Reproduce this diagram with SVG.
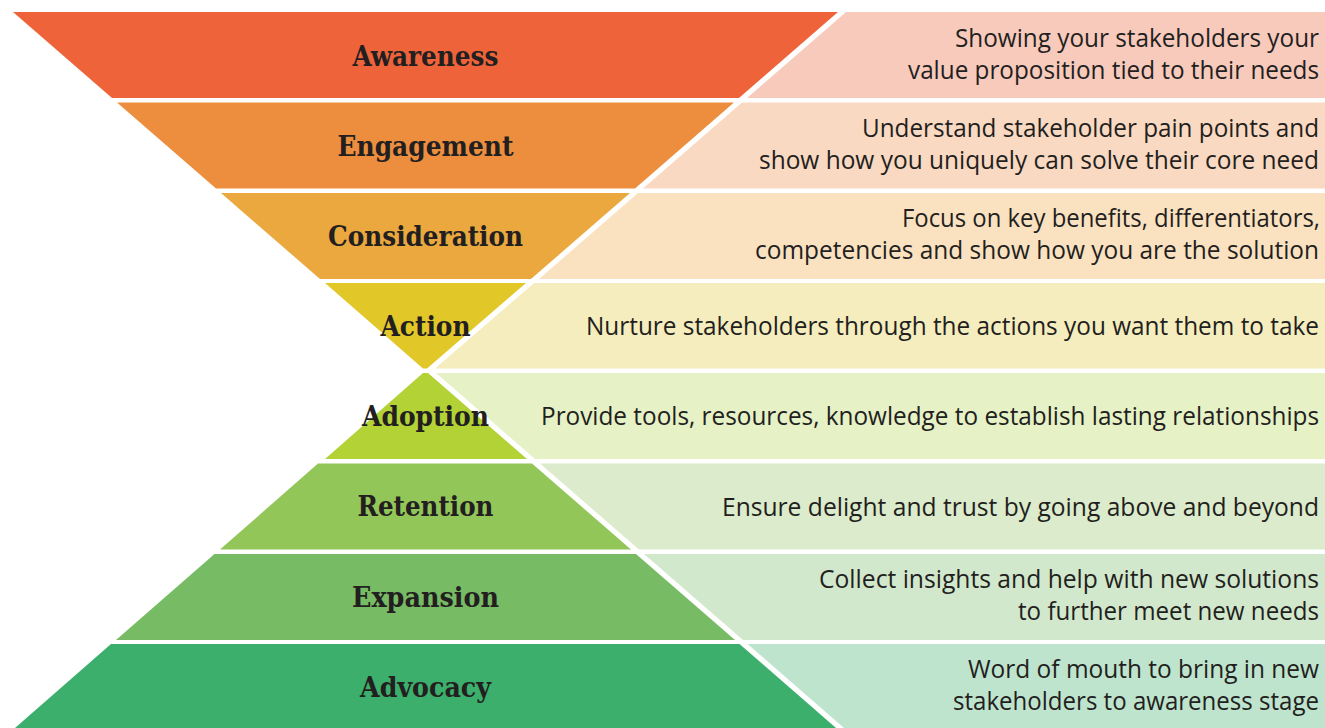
<svg xmlns="http://www.w3.org/2000/svg" width="1325" height="728" viewBox="0 0 1325 728">
<style>
.lbl{font-family:"DejaVu Serif","Liberation Serif",serif;font-weight:bold;font-size:27px;fill:#231F20;text-anchor:middle}
.dsc{font-family:"Open Sans","Noto Sans","Liberation Sans",sans-serif;font-size:25px;fill:#231F20;text-anchor:end}
</style>
<rect width="1325" height="728" fill="#ffffff"/>
<g id="awareness">
<polygon points="846,12 1325,12 1325,98 747,98" fill="#F8CABC"/>
<polygon points="13,12 838,12 739,98 112,98" fill="#EF633A"/>
<text class="lbl" x="425.5" y="66" textLength="146" lengthAdjust="spacingAndGlyphs">Awareness</text>
<text class="dsc" x="1319" y="47" textLength="364" lengthAdjust="spacingAndGlyphs">Showing your stakeholders your</text>
<text class="dsc" x="1319" y="79" textLength="411" lengthAdjust="spacingAndGlyphs">value proposition tied to their needs</text>
</g>
<g id="engagement">
<polygon points="742,102.5 1325,102.5 1325,188.5 643,188.5" fill="#F9D9C1"/>
<polygon points="117,102.5 734,102.5 635,188.5 216,188.5" fill="#EC8E3E"/>
<text class="lbl" x="425.5" y="156" textLength="176" lengthAdjust="spacingAndGlyphs">Engagement</text>
<text class="dsc" x="1319" y="137" textLength="457" lengthAdjust="spacingAndGlyphs">Understand stakeholder pain points and</text>
<text class="dsc" x="1319" y="169" textLength="560" lengthAdjust="spacingAndGlyphs">show how you uniquely can solve their core need</text>
</g>
<g id="consideration">
<polygon points="638,193 1325,193 1325,279 539,279" fill="#FAE2C1"/>
<polygon points="221,193 630,193 531,279 320,279" fill="#EAA83E"/>
<text class="lbl" x="425.5" y="246" textLength="195" lengthAdjust="spacingAndGlyphs">Consideration</text>
<text class="dsc" x="1320" y="227" textLength="418" lengthAdjust="spacingAndGlyphs">Focus on key benefits, differentiators,</text>
<text class="dsc" x="1319" y="259" textLength="564" lengthAdjust="spacingAndGlyphs">competencies and show how you are the solution</text>
</g>
<g id="action">
<polygon points="534,283 1325,283 1325,368.5 435,368.5" fill="#F5EDBE"/>
<polygon points="325,283 526,283 427,368.5 423,368.5" fill="#E2C729"/>
<text class="lbl" x="425.5" y="336" textLength="90" lengthAdjust="spacingAndGlyphs">Action</text>
<text class="dsc" x="1319" y="335" textLength="733" lengthAdjust="spacingAndGlyphs">Nurture stakeholders through the actions you want them to take</text>
</g>
<g id="adoption">
<polygon points="436,373 1325,373 1325,459 535,459" fill="#E6F1C6"/>
<polygon points="423,373 428,373 527,459 325,459" fill="#B2D235"/>
<text class="lbl" x="425.5" y="426" textLength="127" lengthAdjust="spacingAndGlyphs">Adoption</text>
<text class="dsc" x="1319" y="425" textLength="778" lengthAdjust="spacingAndGlyphs">Provide tools, resources, knowledge to establish lasting relationships</text>
</g>
<g id="retention">
<polygon points="540,463.5 1325,463.5 1325,549.5 639,549.5" fill="#DCEBCB"/>
<polygon points="318,463.5 532,463.5 631,549.5 220,549.5" fill="#93C659"/>
<text class="lbl" x="425.5" y="516" textLength="136" lengthAdjust="spacingAndGlyphs">Retention</text>
<text class="dsc" x="1319" y="516" textLength="597" lengthAdjust="spacingAndGlyphs">Ensure delight and trust by going above and beyond</text>
</g>
<g id="expansion">
<polygon points="644,554 1325,554 1325,640 743,640" fill="#D2E8CC"/>
<polygon points="214.5,554 636,554 735,640 116,640" fill="#77BC64"/>
<text class="lbl" x="425.5" y="607" textLength="147" lengthAdjust="spacingAndGlyphs">Expansion</text>
<text class="dsc" x="1319" y="588" textLength="500" lengthAdjust="spacingAndGlyphs">Collect insights and help with new solutions</text>
<text class="dsc" x="1319" y="620" textLength="301" lengthAdjust="spacingAndGlyphs">to further meet new needs</text>
</g>
<g id="advocacy">
<polygon points="747.5,644 1325,644 1325,728 844,728" fill="#BEE4CE"/>
<polygon points="111,644 739.5,644 836,728 15,728" fill="#3BAF6B"/>
<text class="lbl" x="425.5" y="697" textLength="131" lengthAdjust="spacingAndGlyphs">Advocacy</text>
<text class="dsc" x="1319" y="678" textLength="351" lengthAdjust="spacingAndGlyphs">Word of mouth to bring in new</text>
<text class="dsc" x="1319" y="710" textLength="366" lengthAdjust="spacingAndGlyphs">stakeholders to awareness stage</text>
</g>
</svg>
